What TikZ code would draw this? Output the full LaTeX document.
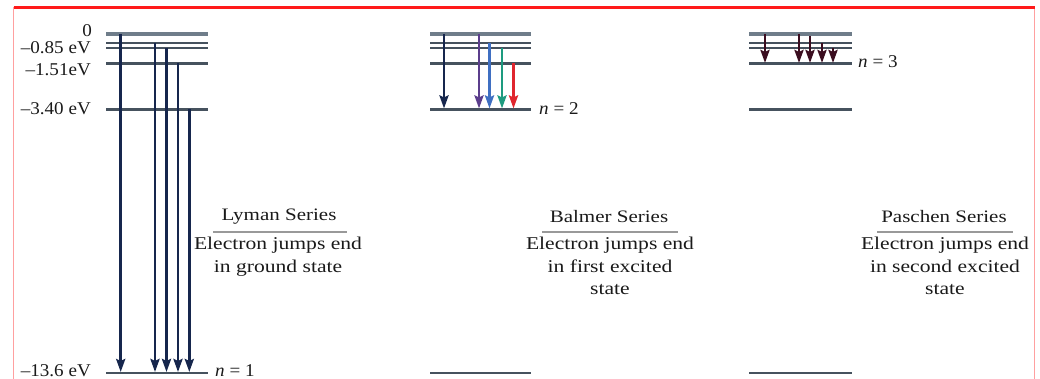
\documentclass[tikz,border=0pt]{standalone}
\usepackage{fontspec}
\setmainfont{Liberation Serif}
\usepackage{graphicx}
\usetikzlibrary{arrows.meta}
\definecolor{lvl}{HTML}{46525E}
\definecolor{barc}{HTML}{6F7D8A}
\definecolor{navy}{HTML}{16264D}
\definecolor{purp}{HTML}{5B3D8C}
\definecolor{bluec}{HTML}{3F6FC2}
\definecolor{greenc}{HTML}{1D9B7F}
\definecolor{redc}{HTML}{E0262E}
\definecolor{maroon}{HTML}{3B0D1F}
\definecolor{txt}{HTML}{1A1A1A}
\definecolor{frame}{HTML}{FF1A1A}
\definecolor{framel}{HTML}{FFA0A0}
\newcommand\strtxt[1]{\scalebox{1.2}[1]{#1}}
\newcommand\strlab[1]{\scalebox{1.06}[1]{#1}}
\begin{document}
\begin{tikzpicture}[x=1pt,y=-1pt,
  level/.style={draw=lvl, line width=2.1pt},
  toplevel/.style={draw=barc, line width=4.5pt},
  jump/.style={line width=2.7pt, -{Stealth[length=13pt,width=9pt,inset=2pt]}},
  elabel/.style={anchor=east, inner sep=0pt, text=txt, font=\fontsize{18}{21}\selectfont},
  nlabel/.style={anchor=west, inner sep=0pt, text=txt, font=\fontsize{18}{21}\selectfont},
  title/.style={inner sep=0pt, text=txt, font=\fontsize{17.5}{22.7}\selectfont},
  body/.style={inner sep=0pt, text=txt, font=\fontsize{18}{22.7}\selectfont},
  rulel/.style={draw=gray!80, line width=1pt}]
\useasboundingbox (0,0) rectangle (1040,379);

% frame
\draw[framel, line width=1.2pt] (13.5,7.5) -- (13.5,379);
\draw[framel, line width=1.2pt] (1034.5,7.5) -- (1034.5,379);
\draw[frame, line width=2.4pt] (13.5,7.5) -- (1034.5,7.5);

% energy levels for the three groups
\foreach \g/\xl/\xr in {L/106/208, B/430/531, P/749/852}{
  \coordinate (\g0l) at (\xl,34);    \coordinate (\g0r) at (\xr,34);
  \coordinate (\g5l) at (\xl,42.7);  \coordinate (\g5r) at (\xr,42.7);
  \coordinate (\g4l) at (\xl,47.7);  \coordinate (\g4r) at (\xr,47.7);
  \coordinate (\g3l) at (\xl,63.5);  \coordinate (\g3r) at (\xr,63.5);
  \coordinate (\g2l) at (\xl,109.5); \coordinate (\g2r) at (\xr,109.5);
  \coordinate (\g1l) at (\xl,373);   \coordinate (\g1r) at (\xr,373);
  \draw[level] (\g5l) -- (\g5r);
  \draw[level] (\g4l) -- (\g4r);
  \draw[level] (\g3l) -- (\g3r);
  \draw[level] (\g2l) -- (\g2r);
  \draw[level] (\g1l) -- (\g1r);
  \draw[toplevel] (\g0l) -- (\g0r);
}

% energy labels
\node[elabel] (e0) at (92,31) {\strlab{0}};
\node[elabel] (e085) at (91,48) {\strlab{–0.85 eV}};
\node[elabel] (e151) at (91,70) {\strlab{–1.51eV}};
\node[elabel] (e340) at (91,109) {\strlab{–3.40 eV}};
\node[elabel] (e136) at (91,370.5) {\strlab{–13.6 eV}};

% n labels
\node[nlabel] (n1) at (215,371) {\strlab{\textit{n} = 1}};
\node[nlabel] (n2) at (539,109) {\strlab{\textit{n} = 2}};
\node[nlabel] (n3) at (858,62) {\strlab{\textit{n} = 3}};

% Lyman arrows
\coordinate (la1) at (120.7,34);  \coordinate (la2) at (155,42.7);
\coordinate (la3) at (166.5,47.7);\coordinate (la4) at (178,63.5);
\coordinate (la5) at (189.3,109.5);
\coordinate (lend) at (0,372);
\foreach \a in {la1,la2,la3,la4,la5}
  \draw[jump, navy] (\a) -- (\a |- lend);

% Balmer arrows
\coordinate (bend) at (0,108.5);
\coordinate (ba1) at (444,34);   \coordinate (ba2) at (479,34);
\coordinate (ba3) at (489.5,42.7); \coordinate (ba4) at (502,47.7);
\coordinate (ba5) at (513.5,63.5);
\draw[jump, navy] (ba1) -- (ba1 |- bend);
\draw[jump, purp] (ba2) -- (ba2 |- bend);
\draw[jump, bluec] (ba3) -- (ba3 |- bend);
\draw[jump, greenc] (ba4) -- (ba4 |- bend);
\draw[jump, redc] (ba5) -- (ba5 |- bend);

% Paschen arrows
\coordinate (pend) at (0,63);
\coordinate (pa1) at (765,34);  \coordinate (pa2) at (799,34);
\coordinate (pa3) at (810,36);  \coordinate (pa4) at (822,42.7);
\coordinate (pa5) at (833,47.7);
\foreach \a in {pa1,pa2,pa3,pa4,pa5}
  \draw[jump, maroon] (\a) -- (\a |- pend);

% series labels
\node[title] (lt) at (279,217) {\strtxt{Lyman Series}};
\draw[rulel] (213,232) -- (347,232);
\node[body] (lb) at (278,256.5) {\strtxt{\begin{tabular}{@{}c@{}}Electron jumps end\\in ground state\end{tabular}}};

\node[title] (bt) at (609,217) {\strtxt{Balmer Series}};
\draw[rulel] (542,232) -- (678,232);
\node[body] (bb) at (610,267.5) {\strtxt{\begin{tabular}{@{}c@{}}Electron jumps end\\in first excited\\state\end{tabular}}};

\node[title] (pt) at (944,217) {\strtxt{Paschen Series}};
\draw[rulel] (877,232) -- (1013,232);
\node[body] (pb) at (945,267.5) {\strtxt{\begin{tabular}{@{}c@{}}Electron jumps end\\in second excited\\state\end{tabular}}};
\end{tikzpicture}
\end{document}
